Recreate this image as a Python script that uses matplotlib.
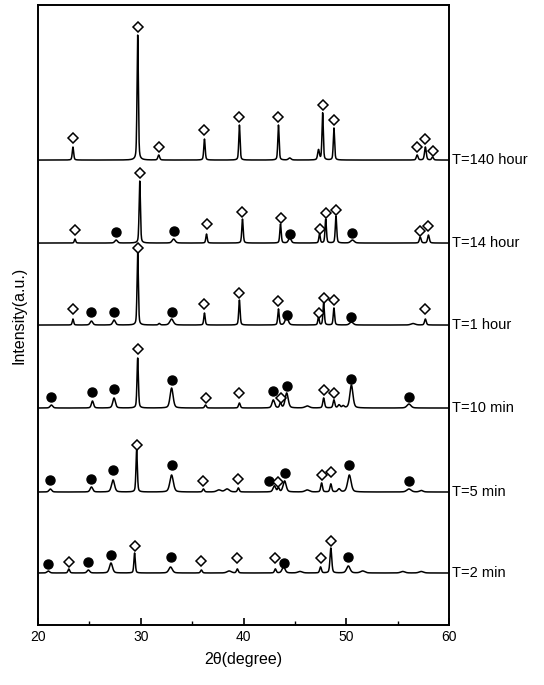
import numpy as np
import matplotlib.pyplot as plt
from matplotlib.ticker import MultipleLocator

plt.rcParams['font.family'] = ['Liberation Sans', 'DejaVu Sans']

# sample labels and baseline offsets (arbitrary intensity units)
labels = ['T=2 min', 'T=5 min', 'T=10 min', 'T=1 hour', 'T=14 hour', 'T=140 hour']
offsets = [52, 133, 217, 300, 382, 465]

# peaks: (2theta, height, fwhm)
peaks_2min = [(21.0, 2, 0.3), (23.0, 4, 0.2), (24.9, 3, 0.3), (27.1, 10, 0.35),
              (29.4, 20, 0.16), (32.9, 6, 0.4), (35.9, 3, 0.2), (38.6, 2, 0.5),
              (39.4, 4, 0.2), (43.1, 4, 0.2), (43.9, 6, 0.35), (45.5, 1.5, 0.5),
              (47.5, 6, 0.2), (48.5, 25, 0.2), (50.2, 7, 0.4), (51.6, 2, 0.5),
              (55.5, 1.5, 0.5), (57.3, 1.5, 0.5)]
peaks_5min = [(21.2, 3, 0.3), (25.2, 5, 0.3), (27.3, 12, 0.35), (29.6, 42, 0.16),
              (33.0, 17, 0.4), (36.1, 3, 0.2), (37.6, 2, 0.5), (38.4, 3, 0.5),
              (39.5, 4, 0.2), (43.0, 6, 0.3), (43.4, 4, 0.2), (44.0, 11, 0.35),
              (46.2, 2, 0.5), (47.6, 9, 0.2), (48.5, 8, 0.2), (49.3, 3, 0.3),
              (50.3, 17, 0.4), (56.1, 3, 0.5), (57.3, 1.5, 0.4)]
peaks_10min = [(21.3, 3, 0.3), (25.3, 7, 0.25), (27.4, 10, 0.3), (29.7, 50, 0.16),
               (33.0, 20, 0.35), (36.3, 3, 0.2), (39.6, 5, 0.2), (42.9, 8, 0.3),
               (43.6, 5, 0.2), (44.2, 15, 0.35), (46.2, 2, 0.5), (47.8, 10, 0.2),
               (48.8, 8, 0.2), (49.3, 3, 0.25), (49.7, 2, 0.25), (50.5, 23, 0.35),
               (56.1, 4, 0.45)]
peaks_1h = [(23.4, 6, 0.16), (25.2, 4, 0.3), (27.4, 5, 0.3), (29.7, 72, 0.15),
            (31.8, 1.5, 0.2), (33.0, 6, 0.4), (36.2, 12, 0.16), (39.6, 25, 0.16),
            (43.4, 16, 0.16), (44.2, 8, 0.35), (47.3, 8, 0.16), (47.8, 22, 0.16),
            (48.8, 17, 0.16), (50.5, 3, 0.4), (56.5, 1.5, 0.5), (57.7, 6, 0.2)]
peaks_14h = [(23.6, 4, 0.16), (27.6, 3, 0.3), (29.9, 62, 0.15), (33.2, 4, 0.35),
             (36.4, 9, 0.16), (39.9, 24, 0.16), (43.6, 19, 0.16), (44.5, 5, 0.3),
             (47.4, 9, 0.16), (48.0, 24, 0.16), (49.0, 27, 0.16), (50.6, 3, 0.4),
             (57.2, 6, 0.2), (58.0, 8, 0.2)]
peaks_140h = [(23.4, 13, 0.16), (29.7, 125, 0.15), (31.75, 5, 0.2), (36.2, 21, 0.16),
              (39.6, 35, 0.15), (43.4, 35, 0.15), (44.5, 2, 0.3), (47.3, 10, 0.2),
              (47.7, 47, 0.15), (48.8, 32, 0.15), (56.9, 5, 0.2), (57.7, 13, 0.2),
              (58.4, 3, 0.2)]

# phase markers: (2theta, height above baseline, kind) d = open diamond, o = filled dot
marks_2min = [(21.0, 9, 'o'), (23.0, 11, 'd'), (24.9, 11, 'o'), (27.1, 18, 'o'),
              (29.4, 27, 'd'), (32.9, 16, 'o'), (35.9, 12, 'd'), (39.4, 15, 'd'),
              (43.1, 15, 'd'), (43.9, 10, 'o'), (47.5, 15, 'd'), (48.5, 32, 'd'),
              (50.2, 16, 'o')]
marks_5min = [(21.2, 12, 'o'), (25.2, 13, 'o'), (27.3, 22, 'o'), (29.6, 47, 'd'),
              (33.0, 27, 'o'), (36.1, 11, 'd'), (39.5, 13, 'd'), (42.5, 11, 'o'),
              (43.4, 10, 'd'), (44.0, 19, 'o'), (47.6, 17, 'd'), (48.5, 20, 'd'),
              (50.3, 27, 'o'), (56.1, 11, 'o')]
marks_10min = [(21.3, 11, 'o'), (25.3, 16, 'o'), (27.4, 19, 'o'), (29.7, 59, 'd'),
               (33.0, 28, 'o'), (36.3, 10, 'd'), (39.6, 15, 'd'), (42.9, 17, 'o'),
               (43.6, 10, 'd'), (44.2, 22, 'o'), (47.8, 18, 'd'), (48.8, 15, 'd'),
               (50.5, 29, 'o'), (56.1, 11, 'o')]
marks_1h = [(23.4, 16, 'd'), (25.2, 13, 'o'), (27.4, 13, 'o'), (29.7, 77, 'd'),
            (33.0, 13, 'o'), (36.2, 21, 'd'), (39.6, 32, 'd'), (43.4, 24, 'd'),
            (44.2, 10, 'o'), (47.3, 12, 'd'), (47.8, 27, 'd'), (48.8, 25, 'd'),
            (50.5, 8, 'o'), (57.7, 16, 'd')]
marks_14h = [(23.6, 13, 'd'), (27.6, 11, 'o'), (29.9, 70, 'd'), (33.2, 12, 'o'),
             (36.4, 19, 'd'), (39.9, 31, 'd'), (43.6, 25, 'd'), (44.5, 9, 'o'),
             (47.4, 14, 'd'), (48.0, 30, 'd'), (49.0, 33, 'd'), (50.6, 10, 'o'),
             (57.2, 12, 'd'), (58.0, 17, 'd')]
marks_140h = [(23.4, 22, 'd'), (29.7, 133, 'd'), (31.75, 13, 'd'), (36.2, 30, 'd'),
              (39.6, 43, 'd'), (43.4, 43, 'd'), (47.7, 55, 'd'), (48.8, 40, 'd'),
              (56.9, 13, 'd'), (57.7, 21, 'd'), (58.4, 9, 'd')]

all_peaks = [peaks_2min, peaks_5min, peaks_10min, peaks_1h, peaks_14h, peaks_140h]
all_marks = [marks_2min, marks_5min, marks_10min, marks_1h, marks_14h, marks_140h]


def profile(x, peaks):
    y = np.zeros_like(x)
    for pos, h, w in peaks:
        g = np.exp(-4 * np.log(2) * ((x - pos) / w) ** 2)
        l = 1 / (1 + 4 * ((x - pos) / w) ** 2)
        y += h * (0.6 * g + 0.4 * l)
    return y


tt = np.arange(20, 60.001, 0.02)

fig = plt.figure(figsize=(5.44, 6.85), dpi=100)
ax = fig.add_axes([0.0699, 0.0876, 0.7555, 0.905])

for lab, off, pk, mk in zip(labels, offsets, all_peaks, all_marks):
    ax.plot(tt, off + profile(tt, pk), color='black', lw=1.1)
    for x, h, kind in mk:
        if kind == 'o':
            ax.plot(x, off + h, 'o', ms=6.5, color='black')
        else:
            ax.plot(x, off + h, 'D', ms=4.8, mfc='white', mec='black', mew=1.1)
    ax.text(60.3, off, lab, fontsize=10.5, va='center', ha='left')

ax.set_xlim(20, 60)
ax.set_ylim(0, 620)
ax.set_yticks([])
ax.xaxis.set_major_locator(MultipleLocator(10))
ax.xaxis.set_minor_locator(MultipleLocator(5))
ax.tick_params(axis='x', which='major', direction='in', length=5, width=1.2,
               labelsize=10, top=False)
ax.tick_params(axis='x', which='minor', direction='in', length=3, width=1.0, top=False)
ax.set_xlabel('2\u03b8(degree)', fontsize=11.5, labelpad=6)
ax.set_ylabel('Intensity(a.u.)', fontsize=11.5, labelpad=8)
for s in ax.spines.values():
    s.set_linewidth(1.4)

fig.savefig('out.png', dpi=100)
